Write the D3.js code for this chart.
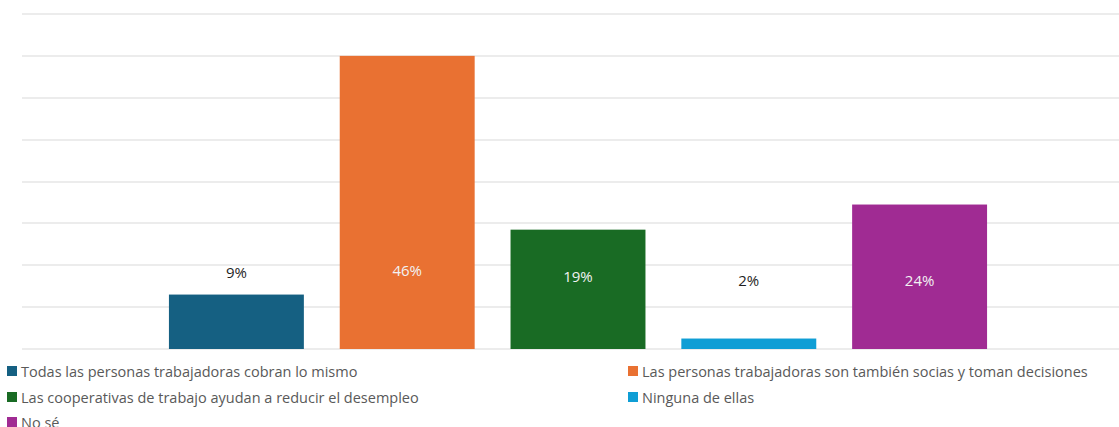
<!DOCTYPE html>
<html>
<head>
<meta charset="utf-8">
<script src="https://cdn.jsdelivr.net/npm/d3@7"></script>
<style>
  body { margin: 0; background: #fff; }
  text { font-family: "Open Sans", "Liberation Sans", sans-serif; }
</style>
</head>
<body>
<div id="chart"></div>
<script>
// answers (one series per answer, one cluster)
var categories = [
  "Todas las personas trabajadoras cobran lo mismo",
  "Las personas trabajadoras son también socias y toman decisiones",
  "Las cooperativas de trabajo ayudan a reducir el desempleo",
  "Ninguna de ellas",
  "No sé"
];
// bar heights (gridlines every 20)
var values = [26, 140, 57, 5, 69];
var labels = ["9%", "46%", "19%", "2%", "24%"];
var colors = ["#156082", "#E97132", "#196B24", "#0F9ED5", "#A02B93"];
var yTicks = [0, 20, 40, 60, 80, 100, 120, 140, 160];

var width = 1119, height = 427;

var svg = d3.select("#chart")
  .append("svg")
    .attr("width", width)
    .attr("height", height);

var x = d3.scaleBand()
  .domain(categories)
  .range([151, 1005])
  .paddingInner(0.21)
  .paddingOuter(0.105);

var y = d3.scaleLinear()
  .domain([0, 160])
  .range([349, 14]);

// gridlines
svg.append("g")
  .selectAll("line")
  .data(yTicks)
  .enter()
  .append("line")
    .attr("x1", 22)
    .attr("x2", width)
    .attr("y1", function (d) { return Math.round(y(d)); })
    .attr("y2", function (d) { return Math.round(y(d)); })
    .style("stroke", "#d9d9d9")
    .style("stroke-width", 1);

svg.append("g")
  .selectAll("rect")
  .data(values)
  .enter()
  .append("rect")
    .attr("x", function (d, i) { return x(categories[i]); })
    .attr("y", function (d) { return y(d); })
    .attr("width", x.bandwidth())
    .attr("height", function (d) { return y(0) - y(d); })
    .style("fill", function (d, i) { return colors[i]; });

// data labels (manually placed in the original, roughly level)
var labelAt = [36.8, 37.7, 34.9, 33, 33];
svg.append("g")
  .selectAll("text")
  .data(labels)
  .enter()
  .append("text")
    .attr("x", function (d, i) { return x(categories[i]) + x.bandwidth() / 2; })
    .attr("y", function (d, i) { return y(labelAt[i]); })
    .attr("text-anchor", "middle")
    .attr("dominant-baseline", "central")
    .style("font-size", "15px")
    .style("fill", function (d, i) { return values[i] > labelAt[i] ? "#f2f2f2" : "#1f1f1f"; })
    .text(function (d) { return d; });

// legend
var legendPos = [[7, 371], [628, 371], [7, 397], [628, 397], [7, 422]];
var legend = svg.append("g")
  .selectAll("g")
  .data(categories)
  .enter()
  .append("g")
    .attr("transform", function (d, i) { return "translate(" + legendPos[i][0] + "," + legendPos[i][1] + ")"; });

legend.append("rect")
  .attr("x", 0)
  .attr("y", -5)
  .attr("width", 10)
  .attr("height", 10)
  .style("fill", function (d, i) { return colors[i]; });

legend.append("text")
  .attr("x", 14)
  .attr("y", 0)
  .attr("dominant-baseline", "central")
  .style("font-size", "14.5px")
  .style("fill", "#595959")
  .text(function (d) { return d; });
</script>
</body>
</html>
